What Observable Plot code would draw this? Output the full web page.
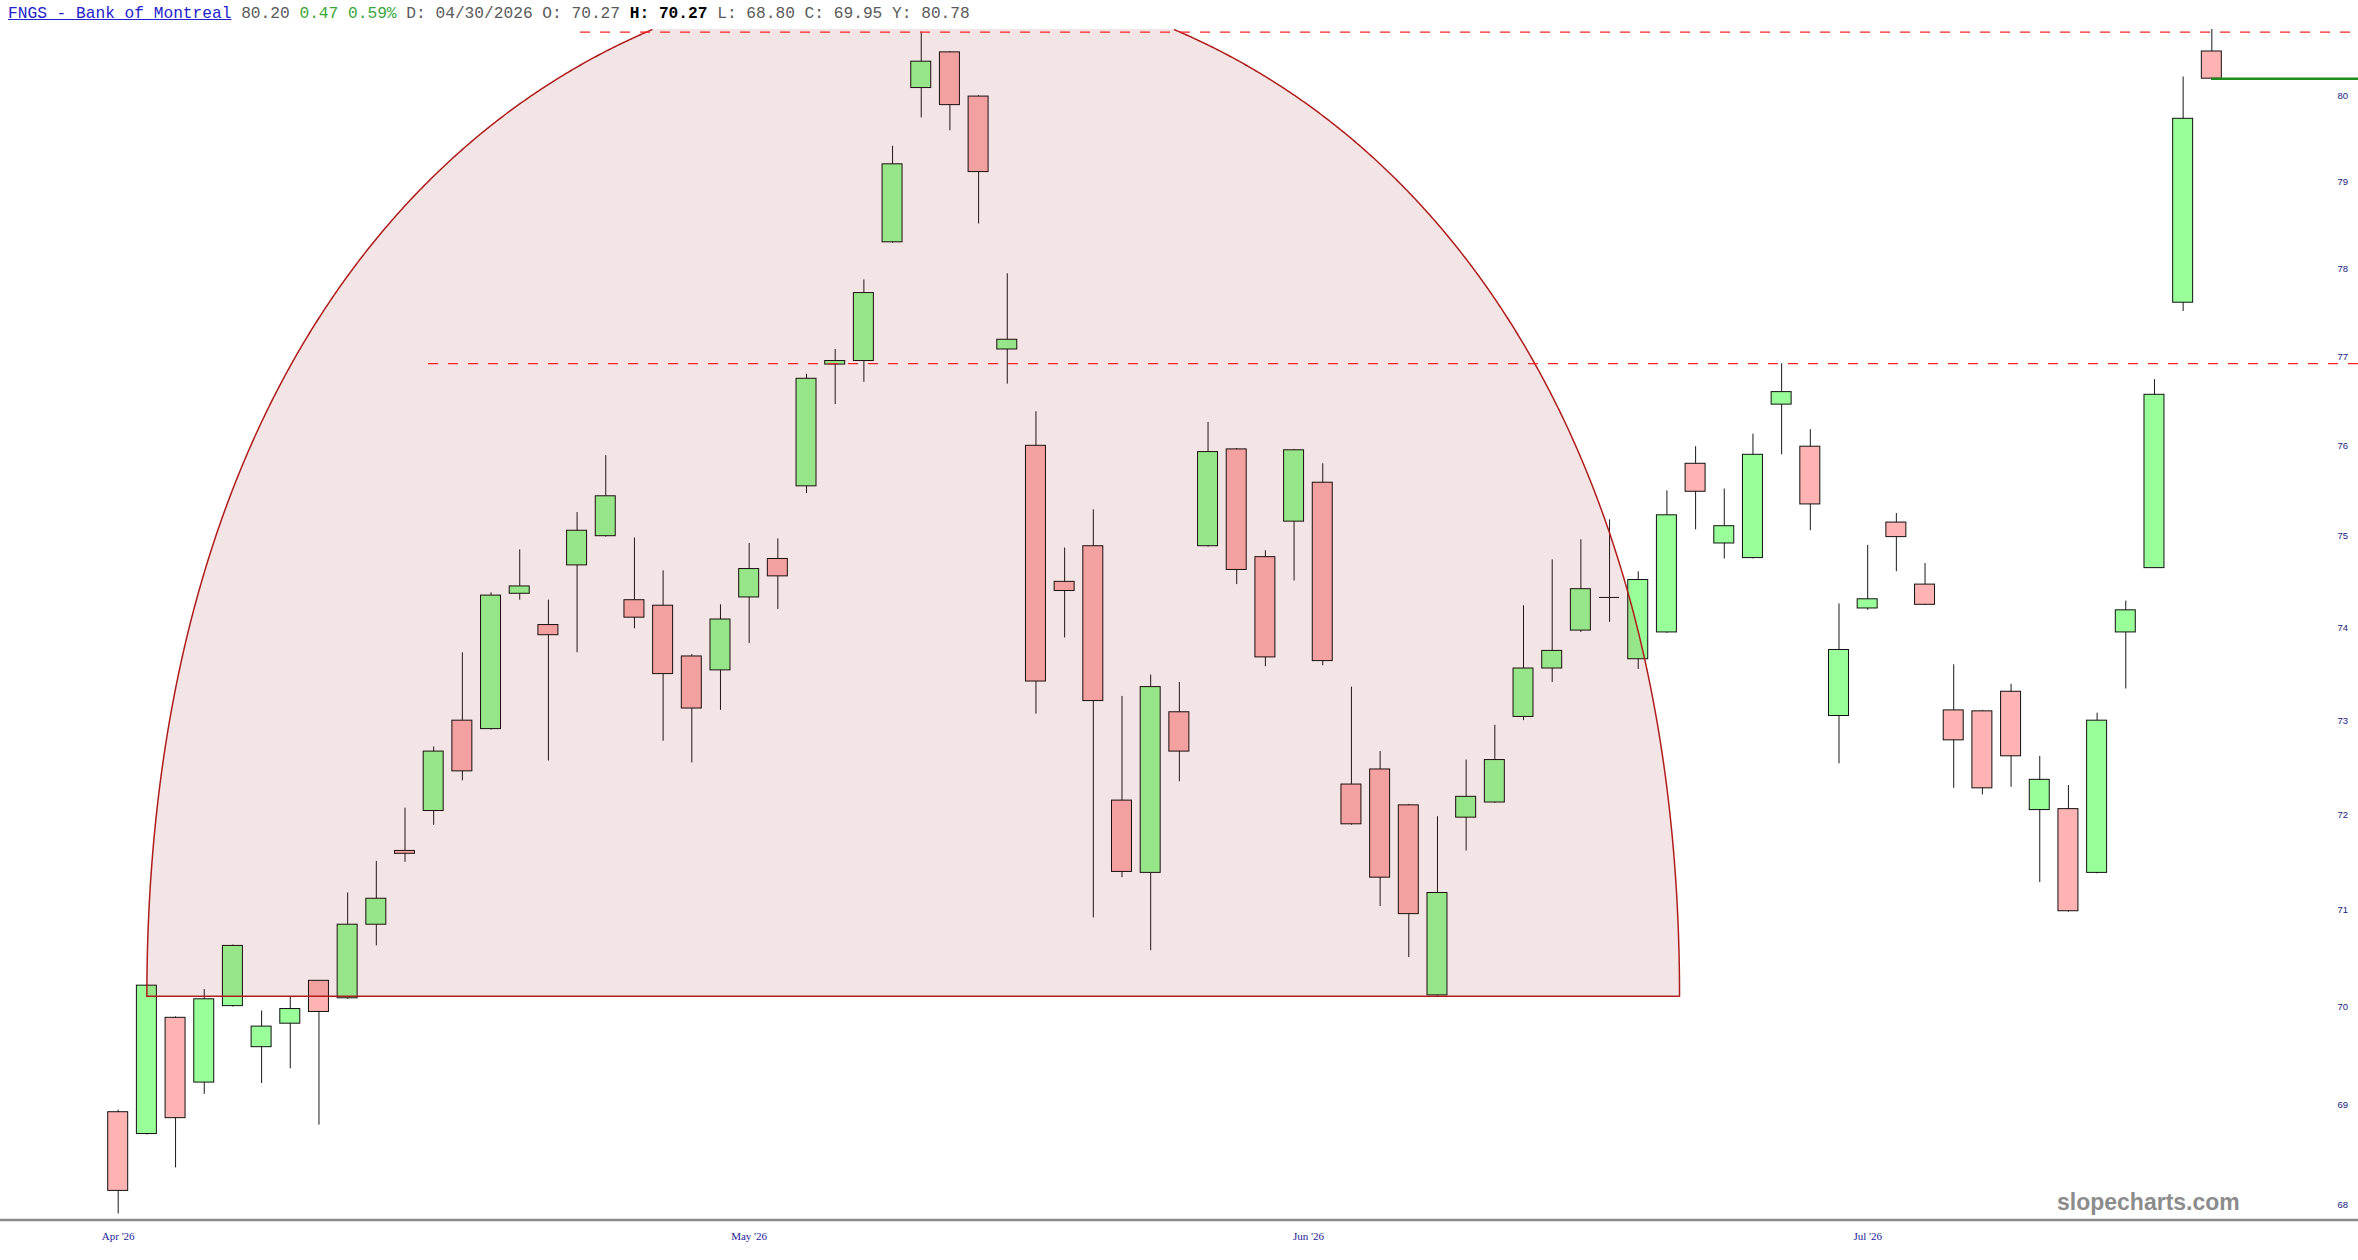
<!DOCTYPE html>
<html>
<head>
<meta charset="utf-8">
<script src="https://cdn.jsdelivr.net/npm/d3@7"></script>
<script src="https://cdn.jsdelivr.net/npm/@observablehq/plot@0.6"></script>
<style>
  html, body { margin: 0; padding: 0; background: #ffffff; }
  #wrap { position: relative; width: 2358px; height: 1260px; overflow: hidden; background: #fff; }
  #chart { position: absolute; left: 0; top: 0; }
  #hdr { position: absolute; left: 8px; top: 6px; font-family: "Liberation Mono", monospace; font-size: 16.2px; line-height: 16px; white-space: pre; color: #5a5a5a; z-index: 2; }
  #hdr .t { color: #2222cc; text-decoration: underline; }
  #hdr .g { color: #3aa63a; }
  #hdr b { color: #000; }
  #wm { position: absolute; left: 2057px; top: 1189px; font-family: "Liberation Sans", Arial, sans-serif; font-weight: bold; font-size: 23px; line-height: 26px; color: #8c8c8c; z-index: 2; }
</style>
</head>
<body>
<div id="wrap">
  <div id="chart"></div>
  <div id="hdr"></div>
  <div id="wm">slopecharts.com</div>
</div>
<script>
// ---------------- data ----------------
const opens  = [68.93,68.71,69.89,69.23,70.01,69.59,69.83,70.27,70.09,70.85,
                71.62,72.04,73.00,72.91,74.37,74.03,74.68,75.00,74.30,74.24,
                73.69,73.54,74.33,74.75,75.55,76.91,76.95,78.30,80.09,80.51,
                79.99,77.08,76.00,74.50,74.89,72.15,71.39,73.09,74.89,75.96,
                74.77,75.16,75.59,72.32,72.48,72.10,70.12,71.97,72.13,73.04,
                73.56,73.97,74.33,73.66,73.95,75.80,74.92,74.76,76.46,75.99,
                73.05,74.21,75.15,74.47,73.11,73.10,73.31,72.05,72.06,71.39,
                73.95,74.65,77.61,80.52];
const highs  = [68.95,70.23,69.90,70.18,70.64,69.96,70.10,70.27,71.18,71.51,
                72.07,72.72,73.73,74.38,74.85,74.30,75.26,75.89,74.98,74.62,
                73.71,74.25,74.92,74.97,76.80,77.08,77.87,79.41,80.75,80.52,
                80.00,77.94,76.38,74.87,75.29,73.26,73.49,73.41,76.26,75.97,
                74.84,75.96,75.80,73.36,72.67,72.11,71.98,72.58,72.95,74.24,
                74.74,74.96,75.18,74.61,75.50,75.99,75.52,76.13,76.92,76.18,
                74.26,74.90,75.25,74.70,73.60,73.11,73.39,72.62,72.31,73.08,
                74.29,76.74,80.22,80.78];
const lows   = [67.91,68.70,68.37,69.11,70.00,69.22,69.37,68.80,70.08,70.63,
                71.50,71.89,72.36,72.90,74.30,72.57,73.73,74.99,73.99,72.78,
                72.55,73.11,73.83,74.20,75.47,76.46,76.71,78.29,79.74,79.59,
                78.51,76.69,73.07,73.89,70.92,71.34,70.58,72.35,74.88,74.47,
                73.58,74.51,73.59,71.89,71.04,70.51,70.11,71.62,72.12,73.00,
                73.41,73.95,74.06,73.55,73.94,75.07,74.75,74.75,75.90,75.06,
                72.54,74.19,74.61,74.24,72.28,72.21,72.29,71.29,70.98,71.38,
                73.34,74.65,77.51,80.18];
const closes = [68.14,70.22,68.87,70.08,70.63,69.80,69.98,69.95,70.85,71.12,
                71.59,72.67,72.46,74.35,74.45,73.92,75.06,75.44,74.11,73.50,
                73.13,74.09,74.64,74.56,76.75,76.95,77.72,79.20,80.40,79.89,
                79.11,77.19,73.42,74.40,73.21,71.40,73.36,72.67,75.93,74.63,
                73.68,75.95,73.64,71.90,71.34,70.96,71.18,72.19,72.58,73.56,
                73.75,74.42,74.33,74.52,75.23,75.49,75.11,75.90,76.60,75.35,
                73.76,74.31,74.99,74.25,72.79,72.28,72.62,72.37,70.99,73.00,
                74.19,76.57,79.73,80.20];

// month tick labels (position = bar index)
const monthTickIndex = [0, 22, 41.5, 61];
const monthTickLabel = ["Apr '26", "May '26", "Jun '26", "Jul '26"];

// price tick labels (right side)
const priceTicks = [68, 69, 70, 71, 72, 73, 74, 75, 76, 77, 78, 79, 80];

// drawn annotations
const levelValues = [80.75, 76.92];      // dashed horizontal lines
const levelFrom   = [16.12, 10.82];      // bar index where each starts
const lastPrice = 80.20;
const arcFrom = 1, arcTo = 54.44, arcBase = 70.11, arcPeak = 81.41; // dome annotation

// header text pieces
const hdrTitle = "FNGS - Bank of Montreal";
const hdrLast = "80.20";
const hdrChange = "0.47 0.59%";
const hdrDate = "D: 04/30/2026 O: 70.27";
const hdrHigh = "H: 70.27";
const hdrRest = "L: 68.80 C: 69.95 Y: 80.78";

// ---------------- scales layout ----------------
const xDomain = [-4.104, 78.114];
const yDomain = [67.85, 80.78];

// ---------------- build ----------------
document.getElementById("hdr").innerHTML =
  `<span class="t">${hdrTitle}</span> ${hdrLast} <span class="g">${hdrChange}</span> ${hdrDate} <b>${hdrHigh}</b> ${hdrRest}`;

const bars = opens.map((o, i) => ({i, open: o, high: highs[i], low: lows[i], close: closes[i]}));
const upBars = bars.filter(d => d.close > d.open);
const downBars = bars.filter(d => d.close < d.open);
const dojiBars = bars.filter(d => d.close === d.open);

// dome outline: half-ellipse in (bar index, price²) space
const ci = (arcFrom + arcTo) / 2, ai = (arcTo - arcFrom) / 2;
const qb = arcBase * arcBase, qp = arcPeak * arcPeak;
const arc = d3.range(0, 1201).map(k => {
  const t = Math.PI * (1 - k / 1200);
  return {i: ci + ai * Math.cos(t), v: Math.sqrt(qb + (qp - qb) * Math.sin(t))};
});
const levels = levelValues.map((v, k) => ({v, from: levelFrom[k]}));
const months = monthTickIndex.map((i, k) => ({i, label: monthTickLabel[k]}));

const chart = Plot.plot({
  width: 2358,
  height: 1260,
  marginTop: 29,
  marginBottom: 40.5,
  marginLeft: 0,
  marginRight: 0,
  x: {type: "linear", domain: xDomain, axis: null},
  y: {type: "log", domain: yDomain, axis: null},
  style: {background: "transparent", overflow: "visible"},
  marks: [
    Plot.ruleY([yDomain[0]], {stroke: "#8a8a8a", strokeWidth: 2.5}),
    Plot.ruleX(bars, {x: "i", y1: "low", y2: "high", stroke: "#1a1a1a", strokeWidth: 1}),
    Plot.rect(upBars, {x1: d => d.i - 0.5, x2: d => d.i + 0.5, y1: "open", y2: "close",
      insetLeft: 4.35, insetRight: 4.35, fill: "#99ff99", stroke: "#111", strokeWidth: 1}),
    Plot.rect(downBars, {x1: d => d.i - 0.5, x2: d => d.i + 0.5, y1: "open", y2: "close",
      insetLeft: 4.35, insetRight: 4.35, fill: "#ffb3b3", stroke: "#111", strokeWidth: 1}),
    Plot.ruleY(dojiBars, {y: "open", x1: d => d.i - 0.35, x2: d => d.i + 0.35, stroke: "#111", strokeWidth: 1}),
    Plot.areaY(arc, {x: "i", y1: () => arcBase, y2: d => Math.min(d.v, yDomain[1]),
      fill: "#8b0000", fillOpacity: 0.1}),
    Plot.line(arc, {x: "i", y: d => (d.v > yDomain[1] ? NaN : d.v), stroke: "#b01c1c", strokeWidth: 1.5}),
    Plot.ruleY([arcBase], {x1: arcFrom, x2: arcTo, stroke: "#b01c1c", strokeWidth: 1.5}),
    Plot.ruleY(levels, {y: "v", x1: "from", x2: () => xDomain[1], stroke: "#ff2222",
      strokeWidth: 1.3, strokeDasharray: "10,10"}),
    Plot.ruleY([lastPrice], {x1: () => bars.length - 1, x2: () => xDomain[1], stroke: "#1f8c1f", strokeWidth: 2.5}),
    Plot.text(priceTicks, {y: d => d, text: d => String(d), frameAnchor: "right", dx: -21,
      textAnchor: "start", fill: "#1a1a80", fontSize: 9.5, fontFamily: "Liberation Sans, Arial, sans-serif"}),
    Plot.text(months, {x: "i", text: "label", frameAnchor: "bottom", dy: 20,
      fill: "#1a1a99", fontSize: 11, fontFamily: "Liberation Serif, Times New Roman, serif"})
  ]
});
document.getElementById("chart").appendChild(chart);
</script>
</body>
</html>
